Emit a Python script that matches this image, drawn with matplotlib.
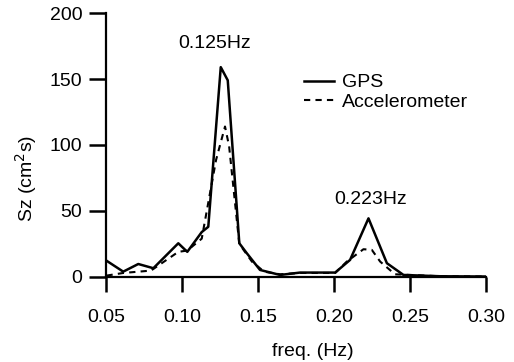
import matplotlib
matplotlib.use("Agg")
import matplotlib.pyplot as plt

plt.rcParams['font.family'] = ['Liberation Sans', 'DejaVu Sans']

gps_f = [0.0504, 0.0614, 0.0713, 0.0812, 0.0976, 0.1035, 0.1130, 0.1173, 0.1255,
         0.1301, 0.1377, 0.1426, 0.1513, 0.1645, 0.1776, 0.2007, 0.2105, 0.2226,
         0.2347, 0.2456, 0.2700, 0.3000]
gps_v = [12.3, 4.0, 9.8, 6.6, 25.5, 19.0, 34.0, 38.0, 159.0,
         149.0, 25.5, 18.0, 5.3, 1.5, 3.3, 3.3, 12.9, 44.4,
         10.4, 1.5, 0.5, 0.3]

acc_f = [0.0504, 0.0614, 0.0796, 0.0976, 0.1035, 0.1130, 0.1224, 0.1283, 0.1310,
         0.1377, 0.1460, 0.1540, 0.1645, 0.1776, 0.2007, 0.2083, 0.2193, 0.2248,
         0.2303, 0.2400, 0.2700, 0.3000]
acc_v = [1.0, 3.0, 4.8, 19.0, 20.0, 29.0, 88.6, 114.0, 99.0,
         25.0, 11.6, 4.0, 2.0, 3.0, 3.0, 11.6, 21.0, 20.5,
         11.6, 2.0, 0.5, 0.3]

peak_labels = ["0.125Hz", "0.223Hz"]
peak_pos = [(0.1217, 177), (0.2237, 59)]

FS = 14

fig = plt.figure(figsize=(5.14, 3.62), dpi=100)
ax = fig.add_axes([0.206, 0.235, 0.740, 0.729])
ax.plot(gps_f, gps_v, color='black', lw=1.8, ls='-', label='GPS')
ax.plot(acc_f, acc_v, color='black', lw=1.5, ls=(0, (3, 2.5)), label='Accelerometer')

ax.set_xlim(0.05, 0.30)
ax.set_ylim(0, 200)
ax.set_xticks([0.05, 0.10, 0.15, 0.20, 0.25, 0.30])
ax.set_xticklabels(["0.05", "0.10", "0.15", "0.20", "0.25", "0.30"])
ax.set_yticks([0, 50, 100, 150, 200])
ax.spines['top'].set_visible(False)
ax.spines['right'].set_visible(False)
for s in ['left', 'bottom']:
    ax.spines[s].set_linewidth(1.6)
ax.tick_params(axis='x', direction='out', length=11, width=1.8, labelsize=FS, pad=12)
ax.tick_params(axis='y', direction='out', length=12, width=1.8, labelsize=FS, pad=5)

for lab, (x, y) in zip(peak_labels, peak_pos):
    ax.text(x, y, lab, ha='center', va='center', fontsize=FS)

ax.set_xlabel("freq. (Hz)", fontsize=FS, labelpad=12, x=0.545)
ax.set_ylabel("Sz (cm$^2$s)", fontsize=FS, labelpad=8, y=0.375)

ax.legend(loc='upper left', bbox_to_anchor=(0.52, 0.77), frameon=False, fontsize=FS,
          handlelength=1.55, handletextpad=0.4, labelspacing=0.1,
          borderaxespad=0, borderpad=0)

fig.savefig("out.png", dpi=100)
